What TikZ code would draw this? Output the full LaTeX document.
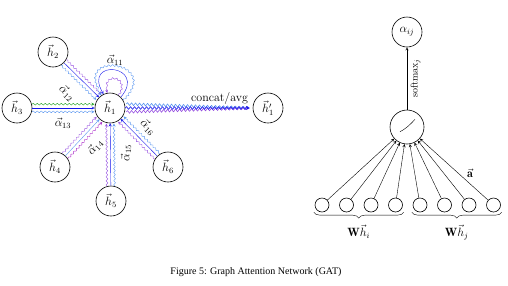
\documentclass[tikz,border=0pt]{standalone}
\usepackage{fontspec}
\usetikzlibrary{calc,decorations.pathmorphing,decorations.pathreplacing}
\newfontfamily\capfont{Liberation Serif}
\definecolor{lblue}{RGB}{90,150,240}
\definecolor{vio}{RGB}{150,80,225}
\definecolor{grn}{RGB}{30,160,30}
\definecolor{mag}{RGB}{170,40,200}
\definecolor{hblue}{RGB}{20,20,235}
\tikzset{
  neur/.style={draw,circle,minimum size=30pt,inner sep=0pt,line width=0.6pt},
  inp/.style={draw,circle,minimum size=14pt,inner sep=0pt,line width=0.6pt},
  wave/.style={decorate,decoration={snake,amplitude=0.9pt,segment length=4pt,post length=3pt}},
}
\begin{document}
\begin{tikzpicture}[>=stealth,x=1pt,y=1pt,line join=round,font=\large]
	\useasboundingbox (0,0) rectangle (508,-285);
	% attention over the neighbourhood of h1
	\node[neur] (h1) at (110,-108) {$\vec{h}_1$};
	\foreach \n/\p in {2/{53,-52},3/{17,-108},4/{55,-167},5/{111,-201},6/{168,-167}}
		\node[neur] (h\n) at (\p) {$\vec{h}_\n$};
	\node[neur] (h1p) at (268,-108) {$\vec{h}'_1$};
	\foreach \n/\cl/\cr/\cm in {2/vio/lblue/hblue,3/grn/lblue/hblue,4/vio/mag/lblue,5/vio/lblue/hblue,6/vio/lblue/hblue}{
		\draw[->,\cm] (h\n) -- (h1);
		\draw[->,wave,\cl] ($(h\n)!15pt!(h1)!3.8pt!90:(h1)$) -- ($(h1)!15.5pt!(h\n)!3.8pt!-90:(h\n)$);
		\draw[->,wave,\cr] ($(h\n)!15pt!(h1)!3.8pt!-90:(h1)$) -- ($(h1)!15.5pt!(h\n)!3.8pt!90:(h\n)$);
	}
	\foreach \n/\p/\r in {2/{67,-93}/-44,3/{63,-123}/0,4/{95,-147}/47,5/{126,-153}/90,6/{148,-127}/-45}
		\node[rotate=\r] (a1\n) at (\p) {$\vec{\alpha}_{1\n}$};
	% self loop
	\draw[->,wave,lblue] (h1.30) .. controls +(45:55) and +(125:55) .. (h1.125);
	\draw[->,hblue] (h1.45) .. controls +(50:42) and +(120:42) .. (h1.115);
	\draw[->,wave,vio] (h1.55) .. controls +(60:22) and +(110:22) .. (h1.100);
	\node (a11) at (115,-60) {$\vec{\alpha}_{11}$};
	% output heads
	\draw[->,wave,semithick,lblue,decoration={amplitude=1.4pt},shorten >=3pt] ($(h1.east)+(1,4)$) -- (h1p.west);
	\draw[->,wave,semithick,vio,decoration={amplitude=1.4pt},shorten >=3pt] ($(h1.east)+(1,-4)$) -- (h1p.west);
	\draw[->,wave,semithick,hblue,decoration={amplitude=1.4pt},shorten >=3pt] (h1.east) -- (h1p.west) node[pos=0.74,above,black] (cc) {concat/avg};
	% attention mechanism
	\node[neur] (aij) at (407,-32) {$\alpha_{ij}$};
	\node[neur,minimum size=34pt] (sig) at (407,-127) {};
	\draw ($(sig)+(-7,-4.7)$) .. controls ($(sig)+(-3,-2.8)$) and ($(sig)+(2,1)$) .. ($(sig)+(8,7.7)$);
	\draw[->] (sig) -- (aij) node[midway,rotate=90,anchor=north,font=\normalsize] (sm) {softmax$_j$};
	\foreach \i in {1,...,8}{
		\node[inp] (x\i) at ({322+24.5*(\i-1)},-205) {};
		\draw[->] (x\i) -- (sig);
	}
	\node (va) at (470,-173) {$\vec{\mathbf{a}}$};
	\draw[decorate,decoration={brace,mirror,amplitude=6pt}] ($(x1.south west)+(-3,-2)$) -- ($(x4.south east)+(3,-2)$) node[midway,below=9pt] (whi) {$\mathbf{W}\vec{h}_i$};
	\draw[decorate,decoration={brace,mirror,amplitude=6pt}] ($(x5.south west)+(-3,-2)$) -- ($(x8.south east)+(3,-2)$) node[midway,below=9pt] (whj) {$\mathbf{W}\vec{h}_j$};
	\node[font=\capfont\normalsize] (cap) at (256,-272) {Figure 5: Graph Attention Network (GAT)};
\end{tikzpicture}
\end{document}
